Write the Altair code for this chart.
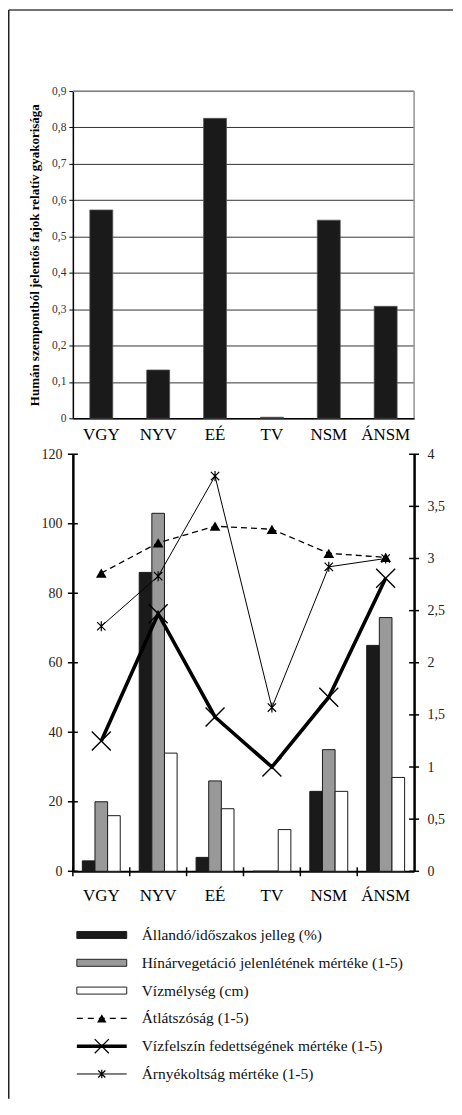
import altair as alt
import pandas as pd

# ---------------- data ----------------
cats = ["VGY", "NYV", "EÉ", "TV", "NSM", "ÁNSM"]

human_freq = [0.573, 0.133, 0.825, 0.003, 0.545, 0.308]
top_ticks = [0, 0.1, 0.2, 0.3, 0.4, 0.5, 0.6, 0.7, 0.8, 0.9]
top_title = "Humán szempontból jelentős fajok relatív gyakorisága"

bar_names = ["Állandó/időszakos jelleg (%)",
             "Hínárvegetáció jelenlétének mértéke (1-5)",
             "Vízmélység (cm)"]
allando = [3, 86, 4, 0, 23, 65]
hinar = [20, 103, 26, 0, 35, 73]
vizmelyseg = [16, 34, 18, 12, 23, 27]
left_ticks = [0, 20, 40, 60, 80, 100, 120]

line_names = ["Átlátszóság (1-5)",
              "Vízfelszín fedettségének mértéke (1-5)",
              "Árnyékoltság mértéke (1-5)"]
atlatszosag = [2.86, 3.15, 3.31, 3.28, 3.05, 3.01]
vizfelszin = [1.25, 2.47, 1.48, 1.0, 1.67, 2.81]
arnyekoltsag = [2.35, 2.83, 3.79, 1.57, 2.92, 3.0]
right_ticks = [0, 0.5, 1, 1.5, 2, 2.5, 3, 3.5, 4]

legend_labels = bar_names + line_names

# ---------------- tables ----------------
top_df = pd.DataFrame({"cat": cats, "v": human_freq})

rows = []
for si, (name, vals) in enumerate(zip(bar_names, [allando, hinar, vizmelyseg])):
    for c, v in zip(cats, vals):
        rows.append({"cat": c, "series": name, "si": si, "v": v})
bars_df = pd.DataFrame(rows)

rows = []
for si, (name, vals) in enumerate(zip(line_names, [atlatszosag, vizfelszin, arnyekoltsag])):
    for c, v in zip(cats, vals):
        rows.append({"cat": c, "series": name, "si": si, "v": v})
lines_df = pd.DataFrame(rows)

leg_df = pd.DataFrame({"label": legend_labels, "i": list(range(len(legend_labels)))})

# ---------------- style ----------------
FONT = "Liberation Serif"
W = 342
H1 = 328
H2 = 418
HL = 195
XPATH = "M-1,-1L1,1M-1,1L1,-1"
ASTER = "M-1,-1L1,1M-1,1L1,-1M0,-1.2L0,1.2"
RECT = "M-1,-0.14L1,-0.14L1,0.14L-1,0.14Z"
comma = "replace(format(datum.value, '~g'), '.', ',')"
one = alt.Data(values=[{"k": 0}])

# ---------------- top chart ----------------
top_x = alt.X("cat:N", sort=cats,
              scale=alt.Scale(paddingInner=0.596, paddingOuter=0.298),
              axis=alt.Axis(title=None, labelAngle=0, ticks=False, domainColor="black",
                            domainWidth=1.5, labelFont=FONT, labelFontSize=17,
                            labelColor="black", labelPadding=8))
top_y = alt.Y("v:Q", scale=alt.Scale(domain=[0, 0.9], nice=False),
              axis=alt.Axis(title=top_title, values=top_ticks, labelExpr=comma,
                            grid=True, gridColor="#333", gridWidth=1,
                            tickSize=4, tickColor="black", domainColor="black",
                            domainWidth=1.5, labelFont=FONT, labelFontSize=11.5,
                            labelColor="#333", labelPadding=3, titleFont=FONT,
                            titleFontSize=13, titleFontWeight="bold",
                            titleColor="black", titlePadding=10))
top_bars = alt.Chart(top_df).mark_bar(color="#1a1a1a", stroke="#555",
                                      strokeWidth=0.7).encode(x=top_x, y=top_y)
border_top = alt.Chart(one).mark_rule(color="#9a9a9a", strokeWidth=1.6).encode(
    x=alt.value(0), x2=alt.value(W), y=alt.value(0))
border_right = alt.Chart(one).mark_rule(color="#9a9a9a", strokeWidth=1.6).encode(
    x=alt.value(W), y=alt.value(0), y2=alt.value(H1))
frame_top = alt.Chart(one).mark_rule(color="#444", strokeWidth=1.5).encode(
    x=alt.value(-64.25), x2=alt.value(381), y=alt.value(-81.25))
frame_left = alt.Chart(one).mark_rule(color="#222", strokeWidth=1.5).encode(
    x=alt.value(-64.25), y=alt.value(-81.25), y2=alt.value(1010))
top = alt.layer(top_bars, border_top, border_right, frame_top, frame_left).properties(
    width=W, height=H1)

# ---------------- bottom chart ----------------
xb_scale = alt.Scale(paddingInner=0, paddingOuter=0)
x_axis_b = alt.Axis(title=None, labelAngle=0, ticks=False, domainColor="black",
                    domainWidth=2, labelFont=FONT, labelFontSize=17,
                    labelColor="black", labelPadding=16)
xb = alt.X("cat:N", sort=cats, scale=xb_scale, axis=x_axis_b)

left_axis = alt.Axis(title=None, orient="left", values=left_ticks, ticks=False,
                     grid=False, domainColor="black", domainWidth=2.5,
                     labelFont=FONT, labelFontSize=14, labelColor="#222",
                     labelPadding=11)
yl = alt.Y("v:Q", scale=alt.Scale(domain=[0, 120], nice=False), axis=left_axis)

right_axis = alt.Axis(title=None, orient="right", values=right_ticks, ticks=False,
                      grid=False, domainColor="black", domainWidth=2.5,
                      labelFont=FONT, labelFontSize=14, labelColor="#222",
                      labelPadding=13, labelExpr=comma)
yr = alt.Y("v:Q", scale=alt.Scale(domain=[0, 4], nice=False), axis=right_axis)

bars = alt.Chart(bars_df).mark_bar(stroke="#1a1a1a", strokeWidth=1).encode(
    x=xb,
    xOffset=alt.XOffset("series:N", sort=bar_names,
                        scale=alt.Scale(paddingOuter=0.75, paddingInner=0)),
    y=yl,
    fill=alt.Fill("series:N", scale=alt.Scale(domain=bar_names,
                  range=["#1a1a1a", "#999999", "#ffffff"]), legend=None),
)
lticks = alt.Chart(pd.DataFrame({"v": left_ticks})).mark_rule(
    color="black", strokeWidth=1.5).encode(x=alt.value(-5), x2=alt.value(5), y=yl)
xticks = alt.Chart(pd.DataFrame({"cat": cats})).mark_rule(
    color="black", strokeWidth=1.5).encode(
    x=alt.X("cat:N", sort=cats, scale=xb_scale, axis=x_axis_b, bandPosition=0),
    y=alt.value(H2 - 4), y2=alt.value(H2 + 5))
layer_a = alt.layer(bars, lticks, xticks)

lb = alt.Chart(lines_df)
l1 = lb.transform_filter("datum.si == 0").mark_line(
    color="black", strokeWidth=1.3, strokeDash=[6, 4]).encode(x=xb, y=yr)
p1 = lb.transform_filter("datum.si == 0").mark_point(
    shape="triangle-up", filled=True, size=115, color="black", opacity=1).encode(x=xb, y=yr)
l2 = lb.transform_filter("datum.si == 1").mark_line(
    color="black", strokeWidth=3.6).encode(x=xb, y=yr)
p2 = lb.transform_filter("datum.si == 1").mark_point(
    shape=XPATH, filled=False, size=361, color="black", strokeWidth=1.4,
    opacity=1).encode(x=xb, y=yr)
l3 = lb.transform_filter("datum.si == 2").mark_line(
    color="black", strokeWidth=1).encode(x=xb, y=yr)
p3 = lb.transform_filter("datum.si == 2").mark_point(
    shape=ASTER, filled=False, size=70, color="black", strokeWidth=1.2,
    opacity=1).encode(x=xb, y=yr)
rticks = alt.Chart(pd.DataFrame({"v": right_ticks})).mark_rule(
    color="black", strokeWidth=1.5).encode(x=alt.value(W - 5), x2=alt.value(W + 5), y=yr)
layer_b = alt.layer(l1, l2, l3, p1, p2, p3, rticks)

bottom = alt.layer(layer_a, layer_b).resolve_scale(y="independent").properties(
    width=W, height=H2)

# ---------------- legend ----------------
ly = alt.Y("label:N", sort=legend_labels,
           scale=alt.Scale(type="point", padding=1.165), axis=None)
lg = alt.Chart(leg_df)
leg_rects = lg.transform_filter("datum.i < 3").mark_point(
    shape=RECT, filled=True, size=2500, stroke="#222", strokeWidth=1,
    opacity=1).encode(
    x=alt.value(29), y=ly,
    fill=alt.Fill("label:N", scale=alt.Scale(domain=bar_names,
                  range=["#1a1a1a", "#999999", "#ffffff"]), legend=None))
leg_l1 = lg.transform_filter("datum.i == 3").mark_rule(
    color="black", strokeWidth=1.3, strokeDash=[6, 5]).encode(
    x=alt.value(4), x2=alt.value(54), y=ly)
leg_p1 = lg.transform_filter("datum.i == 3").mark_point(
    shape="triangle-up", filled=True, size=90, color="black", opacity=1).encode(
    x=alt.value(29), y=ly)
leg_l2 = lg.transform_filter("datum.i == 4").mark_rule(
    color="black", strokeWidth=3.6).encode(x=alt.value(4), x2=alt.value(54), y=ly)
leg_p2 = lg.transform_filter("datum.i == 4").mark_point(
    shape=XPATH, filled=False, size=200, color="black", strokeWidth=1.3,
    opacity=1).encode(x=alt.value(29), y=ly)
leg_l3 = lg.transform_filter("datum.i == 5").mark_rule(
    color="black", strokeWidth=1).encode(x=alt.value(4), x2=alt.value(54), y=ly)
leg_p3 = lg.transform_filter("datum.i == 5").mark_point(
    shape=ASTER, filled=False, size=50, color="black", strokeWidth=1.2,
    opacity=1).encode(x=alt.value(29), y=ly)
leg_text = lg.mark_text(align="left", baseline="middle", font=FONT, fontSize=15.5,
                        color="#111").encode(x=alt.value(69), y=ly, text="label:N")
legend = alt.layer(leg_rects, leg_l1, leg_p1, leg_l2, leg_p2, leg_l3, leg_p3,
                   leg_text).properties(width=W, height=HL)

chart = alt.vconcat(top, bottom, legend, spacing=36, bounds="flush").properties(
    padding=0).configure_view(strokeWidth=0).configure_axis(
    labelFont=FONT, titleFont=FONT).configure_text(font=FONT)

chart.save("out.html", embed_options={"renderer": "svg", "actions": False})
